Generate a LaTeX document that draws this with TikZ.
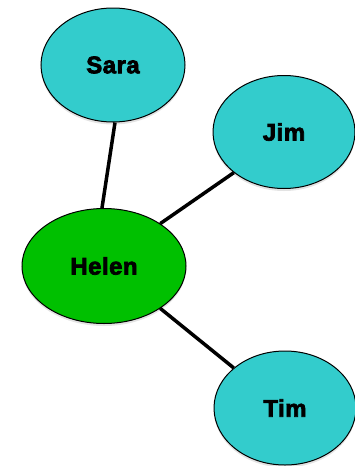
\documentclass[tikz,border=0pt]{standalone}
\usepackage{fontspec}
\setmainfont{Liberation Sans}
\newfontfamily\heavy[FakeBold=3,LetterSpace=2]{Liberation Sans Bold}
\usetikzlibrary{shapes.geometric,shadows}
\definecolor{friend}{HTML}{33CCCC}
\definecolor{centre}{HTML}{00C000}
\begin{document}
\begin{tikzpicture}[x=1pt,y=-1pt,
  person/.style={ellipse, draw=black, line width=1pt, inner sep=0pt,
    font=\fontsize{24}{27}\heavy,
    drop shadow={shadow xshift=0pt, shadow yshift=-2.5pt, opacity=0.22}},
  link/.style={line width=3.5pt, draw=black}]
\useasboundingbox (0,0) rectangle (355,466);
\node[person, fill=friend, minimum width=144pt, minimum height=114pt] (sara) at (113,65) {Sara};
\node[person, fill=friend, minimum width=142pt, minimum height=113pt] (jim) at (284,132) {Jim};
\node[person, fill=centre, minimum width=164pt, minimum height=115pt] (helen) at (104,266) {Helen};
\node[person, fill=friend, minimum width=142pt, minimum height=114pt] (tim) at (285,408) {Tim};
\draw[link] (sara.272) -- (helen.92);
\draw[link] (jim.219) -- (helen.37);
\draw[link] (helen.323) -- (tim.142);
\end{tikzpicture}
\end{document}
